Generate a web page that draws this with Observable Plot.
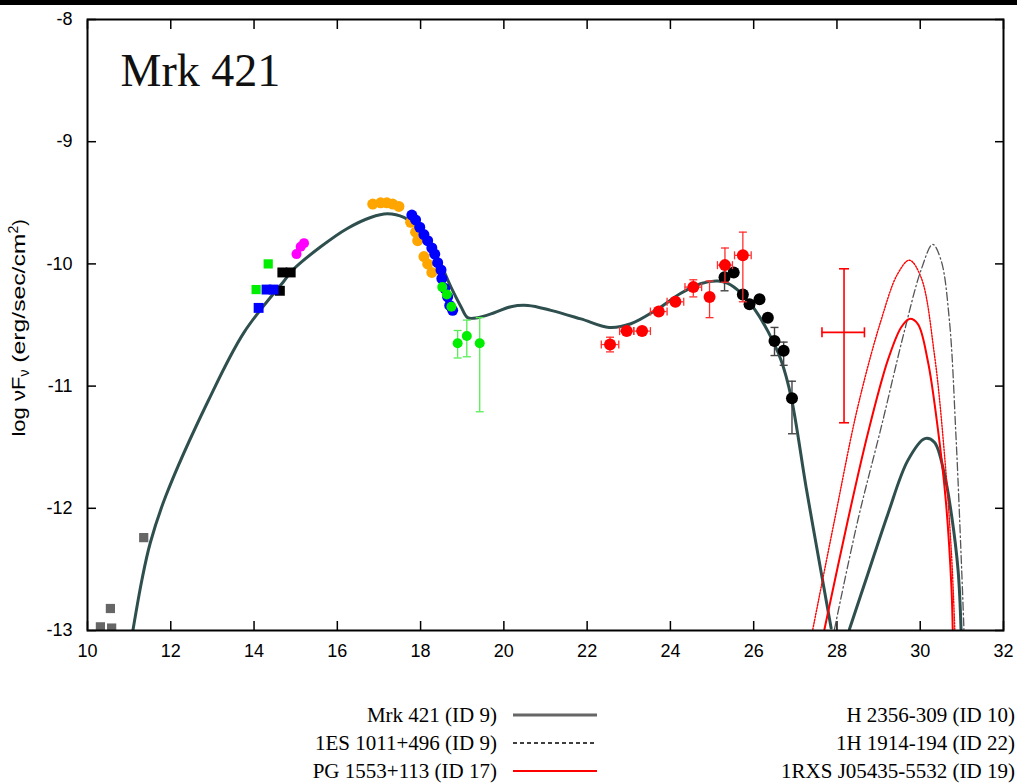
<!DOCTYPE html>
<html><head><meta charset="utf-8">
<script src="https://cdn.jsdelivr.net/npm/d3@7"></script>
<script src="https://cdn.jsdelivr.net/npm/@observablehq/plot@0.6"></script>
<style>
html,body{margin:0;padding:0;background:#fff;}
body{width:1017px;height:784px;overflow:hidden;position:relative;font-family:"Liberation Sans",Arial,sans-serif;}
#bar{position:absolute;left:0;top:0;width:1017px;height:5px;background:#000;}
#chart{position:absolute;left:0;top:0;}
.legtxt{position:absolute;font-family:"Liberation Serif","Times New Roman",serif;font-size:21px;line-height:28px;color:#000;white-space:nowrap;text-align:right;}
.legline{position:absolute;}
</style></head><body>
<div id="chart"></div><div id="bar"></div><div id="legend"></div>
<script>
// ---- axis ticks ----
const xTicks = [10, 12, 14, 16, 18, 20, 22, 24, 26, 28, 30, 32];
const yTicks = [-8, -9, -10, -11, -12, -13];
const sourceName = "Mrk 421";

// ---- data points [log nu, log nuFnu] ----
const graySquares = [[10.31, -12.97], [10.58, -12.98], [10.55, -12.82], [11.35, -12.24]];
const blackSquares = [[14.62, -10.22], [14.68, -10.07], [14.88, -10.07]];
const greenSquares = [[14.05, -10.21], [14.34, -10.0]];
const blueSquares = [[14.11, -10.36], [14.30, -10.21], [14.47, -10.21]];
const magentaDots = [[15.02, -9.92], [15.12, -9.86], [15.20, -9.83]];
const orangeDots = [[16.85, -9.51], [17.04, -9.50], [17.19, -9.50], [17.33, -9.51], [17.48, -9.53],
  [17.76, -9.66], [17.88, -9.74], [17.93, -9.81], [18.08, -9.94], [18.17, -10.0], [18.27, -10.07]];
const blueDots = [[17.79, -9.60], [17.88, -9.64], [17.98, -9.70], [18.08, -9.76], [18.17, -9.81],
  [18.27, -9.87], [18.34, -9.92], [18.41, -9.99], [18.49, -10.05], [18.51, -10.12], [18.58, -10.20],
  [18.65, -10.27], [18.70, -10.34], [18.77, -10.38]];
const greenDots = [[18.52, -10.19], [18.63, -10.25], [18.74, -10.35]];
// [x, y, ylo, yhi]
const greenErr = [[18.89, -10.65, -10.77, -10.545], [19.11, -10.59, -10.76, -10.46], [19.42, -10.65, -11.21, -10.44]];
// [x, y, xerr, ylo, yhi]
const redPts = [
  [22.55, -10.66, 0.21, -10.72, -10.60],
  [22.95, -10.55, 0.17, null, null],
  [23.32, -10.55, 0.20, null, null],
  [23.72, -10.39, 0.20, null, null],
  [24.12, -10.31, 0.20, null, null],
  [24.55, -10.19, 0.20, -10.27, -10.13],
  [24.94, -10.27, null, -10.44, -10.14],
  [25.31, -10.01, 0.18, -10.15, -9.87],
  [25.74, -9.93, 0.20, -10.31, -9.74]];
// [x, y, ylo, yhi]
const blackPts = [
  [25.30, -10.11, -10.22, -10.01], [25.52, -10.07, null, null], [25.74, -10.25, null, null],
  [25.90, -10.33, null, null], [26.14, -10.29, null, null], [26.34, -10.44, null, null],
  [26.50, -10.63, -10.75, -10.52], [26.72, -10.71, -10.83, -10.64], [26.92, -11.10, -11.39, -10.96]];
// [x, y, xlo, xhi, ylo, yhi]
const redLimit = [[28.17, -10.56, 27.64, 28.66, -11.30, -10.04]];

// ---- model curves ----
const mrkModel = [[11.09, -13.0], [11.31, -12.58], [11.51, -12.28], [11.88, -11.90], [12.9, -11.12],
  [13.76, -10.56], [14.72, -10.14], [14.96, -10.04], [15.6, -9.86], [16.24, -9.71], [16.8, -9.62],
  [17.2, -9.59], [17.6, -9.62], [18.0, -9.73], [18.41, -9.95], [18.73, -10.19], [18.97, -10.35],
  [19.13, -10.44], [19.37, -10.44], [19.77, -10.40], [20.17, -10.35], [20.58, -10.34], [21.13, -10.38],
  [21.85, -10.45], [22.53, -10.52], [23.05, -10.49], [23.69, -10.37], [24.25, -10.24], [24.74, -10.16],
  [25.14, -10.14], [25.38, -10.16], [25.70, -10.24], [26.02, -10.37], [26.34, -10.55], [26.66, -10.79],
  [26.90, -11.09], [27.26, -11.83], [27.54, -12.37], [27.86, -12.98]];
const mrkAbsorbed = [[28.30, -12.99], [28.74, -12.54], [29.22, -12.05], [29.70, -11.61], [30.11, -11.43],
  [30.34, -11.46], [30.58, -11.72], [30.75, -12.05], [30.91, -12.51], [30.98, -12.99]];
const redSolid = [[27.70, -12.99], [28.26, -12.10], [28.74, -11.39], [29.22, -10.79], [29.54, -10.52],
  [29.74, -10.45], [29.94, -10.49], [30.18, -10.79], [30.42, -11.34], [30.62, -11.96], [30.75, -12.65], [30.78, -12.99]];
const redDotted = [[27.42, -12.99], [27.94, -12.10], [28.50, -11.17], [29.06, -10.46], [29.46, -10.08],
  [29.74, -9.97], [30.02, -10.11], [30.34, -10.74], [30.58, -11.55], [30.75, -12.37], [30.83, -12.99]];
const grayDashDot = [[27.94, -12.99], [28.50, -12.10], [29.06, -11.34], [29.62, -10.55], [30.02, -10.05],
  [30.30, -9.84], [30.50, -9.97], [30.70, -10.46], [30.86, -11.42], [30.98, -12.37], [31.05, -12.99]];

// ---- legend ----
const legendLeft = ["Mrk 421 (ID 9)", "1ES 1011+496 (ID 9)", "PG 1553+113 (ID 17)"];
const legendRight = ["H 2356-309 (ID 10)", "1H 1914-194 (ID 22)", "1RXS J05435-5532 (ID 19)"];

// custom cap symbols
const hcap = {draw(ctx, size) { const r = Math.sqrt(size / Math.PI); ctx.moveTo(-r, 0); ctx.lineTo(r, 0); }};
const vcap = {draw(ctx, size) { const r = Math.sqrt(size / Math.PI); ctx.moveTo(0, -r); ctx.lineTo(0, r); }};

const X = d => d[0], Y = d => d[1];
const curveStyle = {x: X, y: Y, curve: "catmull-rom", clip: true};

function vErr(data, x, lo, hi, color, capR, w) {
  const d = data.filter(r => lo(r) != null);
  return [
    Plot.ruleX(d, {x, y1: lo, y2: hi, stroke: color, strokeWidth: w}),
    Plot.dot(d, {x, y: lo, symbol: hcap, r: capR, fill: "none", stroke: color, strokeWidth: w}),
    Plot.dot(d, {x, y: hi, symbol: hcap, r: capR, fill: "none", stroke: color, strokeWidth: w})
  ];
}
function hErr(data, y, lo, hi, color, capR, w) {
  const d = data.filter(r => lo(r) != null);
  return [
    Plot.ruleY(d, {y, x1: lo, x2: hi, stroke: color, strokeWidth: w}),
    Plot.dot(d, {x: lo, y, symbol: vcap, r: capR, fill: "none", stroke: color, strokeWidth: w}),
    Plot.dot(d, {x: hi, y, symbol: vcap, r: capR, fill: "none", stroke: color, strokeWidth: w})
  ];
}

const chart = Plot.plot({
  width: 1017,
  height: 680,
  marginLeft: 87,
  marginRight: 14,
  marginTop: 19,
  marginBottom: 50,
  style: {fontFamily: "'Liberation Sans', Arial, sans-serif", fontSize: "17px", color: "#000", background: "#fff"},
  x: {domain: [10, 32]},
  y: {domain: [-13, -8]},
  marks: [
    Plot.axisX(xTicks, {anchor: "bottom", tickSize: -9, tickPadding: 23, tickFormat: d => String(d), label: null, strokeWidth: 1.5, fontSize: 18}),
    Plot.axisX(xTicks, {anchor: "top", tickSize: -9, tickFormat: () => "", label: null, strokeWidth: 1.5}),
    Plot.axisY(yTicks, {anchor: "left", tickSize: -9, tickPadding: 24, tickFormat: d => String(d), label: null, strokeWidth: 1.5, fontSize: 18}),
    Plot.axisY(yTicks, {anchor: "right", tickSize: -9, tickFormat: () => "", label: null, strokeWidth: 1.5}),
    // model curves
    Plot.line(mrkModel, {...curveStyle, stroke: "#2f4f4f", strokeWidth: 3}),
    Plot.line(mrkAbsorbed, {...curveStyle, stroke: "#2f4f4f", strokeWidth: 3}),
    Plot.line(redDotted, {...curveStyle, stroke: "#ff0000", strokeWidth: 1.4, strokeDasharray: "1.5,1.5"}),
    Plot.line(grayDashDot, {...curveStyle, stroke: "#555", strokeWidth: 1.3, strokeDasharray: "8,3,1.5,3"}),
    Plot.line(redSolid, {...curveStyle, stroke: "#ff0000", strokeWidth: 2}),
    // radio / optical squares
    Plot.dot(graySquares, {x: X, y: Y, symbol: "square", r: 5.2, fill: "#666", clip: true}),
    Plot.dot(blackSquares, {x: X, y: Y, symbol: "square", r: 5.6, fill: "#000"}),
    Plot.dot(greenSquares, {x: X, y: Y, symbol: "square", r: 5.2, fill: "#00ee00"}),
    Plot.dot(blueSquares, {x: X, y: Y, symbol: "square", r: 5.6, fill: "#0000ff"}),
    Plot.dot(magentaDots, {x: X, y: Y, r: 5, fill: "#ff00ff"}),
    // X-ray
    Plot.dot(orangeDots, {x: X, y: Y, r: 5.5, fill: "#ffa500"}),
    Plot.dot(blueDots, {x: X, y: Y, r: 5.5, fill: "#0000ff"}),
    Plot.dot(greenDots, {x: X, y: Y, r: 5, fill: "#00ee00"}),
    ...vErr(greenErr, X, d => d[2], d => d[3], "#55ee55", 4, 1.3),
    Plot.dot(greenErr, {x: X, y: Y, r: 5, fill: "#00ee00"}),
    // gamma
    ...vErr(blackPts, X, d => d[2], d => d[3], "#444", 4, 1.4),
    Plot.dot(blackPts, {x: X, y: Y, r: 6, fill: "#000"}),
    ...vErr(redPts, X, d => d[3], d => d[4], "#ff3030", 4, 1.3),
    ...hErr(redPts, Y, d => d[2] == null ? null : d[0] - d[2], d => d[2] == null ? null : d[0] + d[2], "#ff3030", 4, 1.3),
    Plot.dot(redPts, {x: X, y: Y, r: 6, fill: "#ff0000"}),
    ...vErr(redLimit, X, d => d[4], d => d[5], "#ff0000", 5, 1.6),
    ...hErr(redLimit, Y, d => d[2], d => d[3], "#ff0000", 5, 1.6),
    Plot.frame({stroke: "#000", strokeWidth: 2}),
    Plot.text([sourceName], {frameAnchor: "top-left", text: d => d, dx: 33, dy: 34, textAnchor: "start", lineAnchor: "top",
      fontFamily: "'Liberation Serif', 'Times New Roman', serif", fontSize: 46, fill: "#111"})
  ]
});
document.getElementById("chart").appendChild(chart);

// y-axis title with sub/superscript
const svg = d3.select(chart);
const t = svg.append("text")
  .attr("transform", "translate(25,328) rotate(-90)")
  .attr("text-anchor", "middle")
  .attr("font-family", "'Liberation Sans', Arial, sans-serif")
  .attr("font-size", 19)
  .attr("fill", "#000");
t.append("tspan").attr("textLength", 60).attr("lengthAdjust", "spacingAndGlyphs").text("log \u03BDF");
t.append("tspan").attr("font-size", 14).attr("dy", 4).text("\u03BD");
t.append("tspan").attr("dy", -4).attr("textLength", 136).attr("lengthAdjust", "spacingAndGlyphs").text(" (erg/sec/cm");
t.append("tspan").attr("font-size", 14).attr("dy", -7).text("2");
t.append("tspan").attr("dy", 7).text(")");

// legend below chart
const legendStyles = [
  {stroke: "#666", width: 3, dash: null},
  {stroke: "#000", width: 1.3, dash: "4,3"},
  {stroke: "#ff0000", width: 2, dash: null}
];
const rowsY = [715, 743, 771];
const leg = d3.select("#legend");
legendLeft.forEach((label, i) => {
  leg.append("div").attr("class", "legtxt")
    .style("right", (1017 - 497) + "px").style("top", (rowsY[i] - 14) + "px").text(label);
  const s = leg.append("svg").attr("class", "legline").attr("width", 84).attr("height", 10)
    .style("left", "513px").style("top", (rowsY[i] - 5) + "px");
  s.append("line").attr("x1", 0).attr("x2", 84).attr("y1", 5).attr("y2", 5)
    .attr("stroke", legendStyles[i].stroke).attr("stroke-width", legendStyles[i].width)
    .attr("stroke-dasharray", legendStyles[i].dash);
});
legendRight.forEach((label, i) => {
  leg.append("div").attr("class", "legtxt")
    .style("right", "2px").style("top", (rowsY[i] - 14) + "px").text(label);
});
</script></body></html>
